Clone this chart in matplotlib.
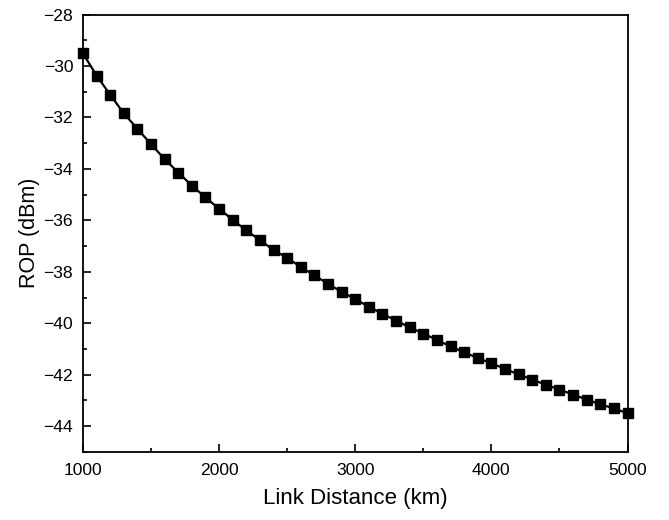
import matplotlib
matplotlib.use("Agg")
import matplotlib.pyplot as plt
from matplotlib.ticker import MultipleLocator

plt.rcParams['font.family'] = ['Liberation Sans', 'DejaVu Sans']

# link distance (km) and received optical power (dBm)
distance = list(range(1000, 5001, 100))
rop = [-29.51, -30.37, -31.12, -31.84, -32.44, -33.04, -33.62, -34.14, -34.65, -35.11,
       -35.55, -35.98, -36.39, -36.77, -37.15, -37.46, -37.81, -38.14, -38.47, -38.78,
       -39.06, -39.36, -39.63, -39.90, -40.16, -40.40, -40.65, -40.90, -41.13, -41.35,
       -41.56, -41.77, -41.99, -42.19, -42.39, -42.58, -42.77, -42.97, -43.15, -43.31,
       -43.50]

fig = plt.figure(figsize=(6.69, 5.2), dpi=100)
ax = fig.add_axes([0.124, 0.131, 0.814, 0.841])

ax.plot(distance, rop, color='black', lw=1.6, marker='s', ms=7, clip_on=False, zorder=3)

ax.set_xlim(1000, 5000)
ax.set_ylim(-45, -28)
ax.xaxis.set_major_locator(MultipleLocator(1000))
ax.xaxis.set_minor_locator(MultipleLocator(500))
ax.yaxis.set_major_locator(MultipleLocator(2))
ax.yaxis.set_minor_locator(MultipleLocator(1))
ax.tick_params(which='both', direction='in', top=False, right=False, labelsize=12.6, width=1.2)
ax.tick_params(which='major', length=6)
ax.tick_params(which='minor', length=3)
ax.tick_params(axis='x', pad=8)
ax.tick_params(axis='y', pad=7)
for s in ax.spines.values():
    s.set_linewidth(1.3)

ax.set_xlabel('Link Distance (km)', fontsize=16, labelpad=7)
ax.set_ylabel('ROP (dBm)', fontsize=15.5, labelpad=2.5)

fig.savefig('out.png', dpi=100)
